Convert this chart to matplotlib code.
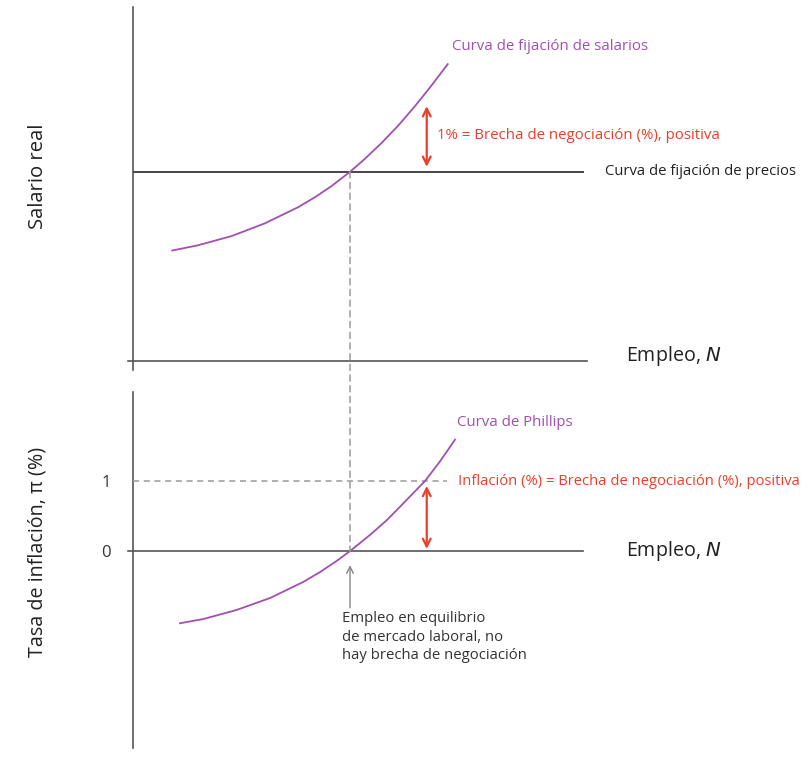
import matplotlib
matplotlib.use('Agg')
import matplotlib.pyplot as plt
from matplotlib.patches import ConnectionPatch

plt.rcParams['font.family'] = ['Open Sans', 'DejaVu Sans']

# employment N and real wage
wage_n = [0.866, 1.438, 2.174, 2.907, 3.641, 4.009, 4.377, 4.780,
          5.110, 5.478, 5.843, 6.211, 6.579, 6.932]
wage_w = [3.13, 3.28, 3.54, 3.90, 4.36, 4.64, 4.96, 5.36,
          5.73, 6.18, 6.67, 7.22, 7.81, 8.41]
price_w = 5.36
price_n_end = 9.91

# Phillips curve: employment N and inflation (%)
phil_n = [1.035, 1.548, 2.284, 3.018, 3.751, 4.119, 4.487, 4.780,
          5.220, 5.588, 5.953, 6.432, 6.762, 7.093]
phil_pi = [-1.03, -0.97, -0.84, -0.67, -0.44, -0.30, -0.14, 0.0,
           0.23, 0.44, 0.68, 1.0, 1.28, 1.59]

n_eq = 4.78
n_gap = 6.47
gap_top = [5.50, 7.22]
gap_bot = [0.03, 0.93]
pi_line_end = 6.92
pi_ticks = [0, 1]

purple = '#a050b0'
red = '#e8402a'
dark = '#555555'
grey = '#9a9a9a'

W, H = 810, 758
fig = plt.figure(figsize=(8.1, 7.58), dpi=100)
ax1 = fig.add_axes([133 / W, 1 - 361 / H, 454 / W, 353 / H])
ax2 = fig.add_axes([133 / W, 1 - 748 / H, 454 / W, 356 / H])

ax1.set_xlim(0, 10)
ax1.set_ylim(0, 10)
ax2.set_xlim(0, 10)
ax2.set_ylim(-2.81, 2.27)

for ax in (ax1, ax2):
    for s in ax.spines.values():
        s.set_visible(False)
    ax.set_xticks([])
    ax.patch.set_alpha(0)

ax1.set_yticks([])
ax2.set_yticks(pi_ticks)
ax2.tick_params(axis='y', length=0, pad=16, labelsize=12, labelcolor='#333333')

# axes lines
ax1.axvline(0, ymin=-0.025, ymax=1.003, color=dark, lw=1.2, clip_on=False)
ax1.axhline(0, xmin=-0.011, xmax=1.0, color=dark, lw=1.2, clip_on=False)
ax2.axvline(0, ymin=0, ymax=1, color=dark, lw=1.2, clip_on=False)
ax2.axhline(0, xmin=-0.011, xmax=0.991, color=dark, lw=1.2, clip_on=False)

# top panel
ax1.plot([0, price_n_end], [price_w, price_w], color='#444444', lw=1.4)
ax1.plot(wage_n, wage_w, color=purple, lw=1.3, solid_joinstyle='round')
ax1.annotate('', xy=(n_gap, gap_top[1]), xytext=(n_gap, gap_top[0]),
             arrowprops=dict(arrowstyle='<->', color=red, lw=1.6,
                             shrinkA=0, shrinkB=0, mutation_scale=14))

ax1.text(7.02, 8.92, 'Curva de fijación de salarios', color=purple,
         fontsize=10.8, va='center', ha='left')
ax1.text(6.7, 6.4, '1% = Brecha de negociación (%), positiva', color=red,
         fontsize=10.8, va='center', ha='left')
ax1.text(10.4, 5.38, 'Curva de fijación de precios', color='#222222',
         fontsize=10.7, va='center', ha='left')
ax1.text(10.86, 0.13, 'Empleo, $\\mathit{N}$', color='#222222',
         fontsize=14.2, va='center', ha='left')

# bottom panel
ax2.plot([0, pi_line_end], [1, 1], color=grey, lw=1.1, ls=(0, (4, 3)))
ax2.plot(phil_n, phil_pi, color=purple, lw=1.3, solid_joinstyle='round')
ax2.annotate('', xy=(n_gap, gap_bot[1]), xytext=(n_gap, gap_bot[0]),
             arrowprops=dict(arrowstyle='<->', color=red, lw=1.6,
                             shrinkA=0, shrinkB=0, mutation_scale=14))
ax2.annotate('', xy=(n_eq, -0.2), xytext=(n_eq, -0.81),
             arrowprops=dict(arrowstyle='->', color='#888888', lw=1.0,
                             shrinkA=0, shrinkB=0, mutation_scale=12))

ax2.text(7.13, 1.84, 'Curva de Phillips', color=purple,
         fontsize=10.8, va='center', ha='left')
ax2.text(7.15, 0.99, 'Inflación (%) = Brecha de negociación (%), positiva',
         color=red, fontsize=10.65, va='center', ha='left')
ax2.text(10.86, 0.0, 'Empleo, $\\mathit{N}$', color='#222222',
         fontsize=14.2, va='center', ha='left')
ax2.text(4.6, -0.86, 'Empleo en equilibrio\nde mercado laboral, no\nhay brecha de negociación',
         color='#333333', fontsize=10.7, va='top', ha='left', linespacing=1.3)

# dashed line linking the equilibrium in both panels
con = ConnectionPatch(xyA=(n_eq, price_w), coordsA=ax1.transData,
                      xyB=(n_eq, 0), coordsB=ax2.transData,
                      color=grey, lw=1.1, ls=(0, (4, 3)))
fig.add_artist(con)

fig.text(38 / W, 1 - 176 / H, 'Salario real', rotation=90, fontsize=14.6,
         va='center', ha='center', color='#222222')
fig.text(38 / W, 1 - 552 / H, 'Tasa de inflación, π (%)', rotation=90,
         fontsize=14.2, va='center', ha='center', color='#222222')

fig.savefig('out.png', dpi=100)
